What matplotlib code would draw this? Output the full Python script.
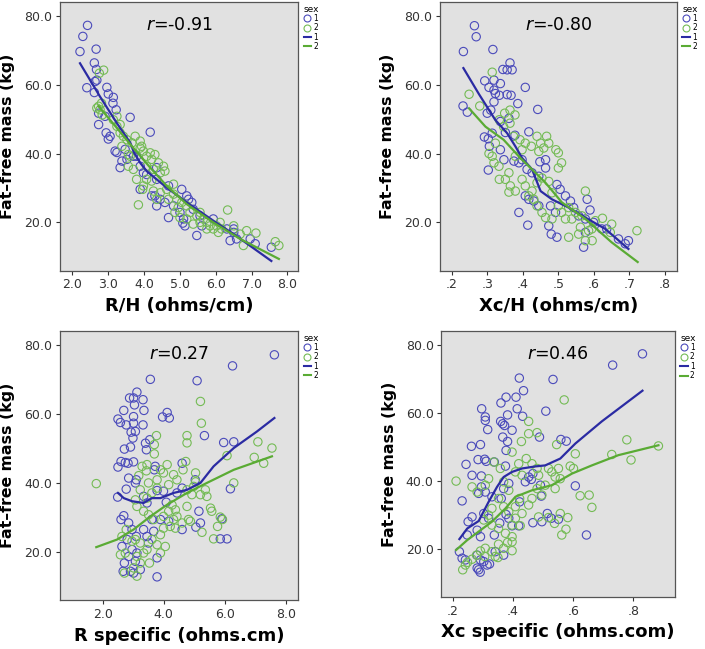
import numpy as np
import matplotlib.pyplot as plt
from matplotlib.lines import Line2D

# ---- panel 1 : R/H ----
rh_m_x = [2.42, 2.29, 2.21, 2.66, 2.61, 2.67, 2.40, 2.63, 2.68, 2.61, 2.96, 3.00, 3.14, 3.13, 2.73, 2.73,
          2.91, 3.22, 3.61, 2.94, 3.05, 3.00, 4.17, 3.19, 3.33, 3.52, 3.70, 3.89, 3.98, 4.35, 4.68, 4.68,
          4.45, 4.21, 5.05, 5.10, 5.14, 5.08, 5.47, 5.19, 5.24, 5.56, 5.61, 5.93, 6.31, 6.50, 6.58, 6.40,
          6.96, 7.10, 7.55, 6.50, 4.07, 4.35, 4.30, 3.89, 3.79, 3.38, 3.47, 3.24, 4.82, 4.58, 4.35, 5.00,
          5.33, 5.37]
rh_m_y = [77.2, 74.0, 69.6, 70.3, 66.3, 64.4, 59.1, 60.9, 61.3, 57.7, 59.2, 57.3, 56.3, 54.6, 51.7, 48.4,
          50.8, 52.7, 50.5, 46.0, 45.0, 44.2, 46.2, 40.7, 35.9, 38.3, 39.2, 36.3, 34.4, 32.5, 30.6, 21.4,
          26.7, 27.7, 29.6, 21.0, 19.0, 19.8, 16.2, 27.7, 26.7, 21.9, 19.0, 21.0, 18.1, 18.1, 15.2, 14.7,
          15.2, 13.8, 12.8, 17.1, 33.9, 35.9, 27.7, 29.6, 39.2, 37.8, 41.2, 40.3, 24.8, 25.8, 24.8, 22.9,
          25.8, 23.8]
rh_f_x = [2.73, 2.77, 2.81, 2.68, 2.83, 3.14, 3.24, 3.33, 2.75, 2.87, 3.33, 3.42, 3.52, 3.66, 3.75, 3.89,
          3.93, 3.98, 4.07, 4.17, 4.30, 4.21, 4.40, 4.54, 4.58, 4.45, 3.61, 3.56, 3.70, 3.79, 3.98, 3.96,
          4.07, 3.84, 4.21, 4.26, 4.45, 4.63, 4.82, 4.91, 5.05, 4.86, 4.95, 5.19, 5.28, 5.47, 5.56, 5.65,
          5.75, 5.84, 5.93, 6.02, 6.07, 6.16, 6.12, 6.33, 6.50, 6.68, 6.77, 6.86, 7.12, 7.66, 7.76, 5.19,
          5.37, 5.00, 4.68, 4.35, 4.82, 3.24, 3.38, 3.56, 3.89, 4.07, 4.26, 5.56, 5.75]
rh_f_y = [53.7, 52.7, 54.6, 53.2, 51.2, 49.8, 47.9, 48.4, 63.3, 64.2, 46.0, 45.0, 44.0, 43.1, 45.0, 43.6,
          42.1, 40.7, 39.2, 40.2, 39.7, 38.3, 37.3, 36.3, 34.9, 34.4, 39.2, 36.3, 35.4, 32.5, 30.6, 29.6,
          32.5, 25.1, 32.0, 29.1, 28.6, 29.6, 28.2, 26.7, 25.8, 22.9, 24.3, 24.8, 22.9, 21.9, 22.9, 21.0,
          20.0, 19.0, 18.1, 19.0, 17.1, 18.1, 20.0, 23.6, 19.0, 16.6, 13.3, 17.6, 16.9, 14.4, 13.3, 21.0,
          19.5, 21.4, 26.7, 26.7, 31.1, 50.8, 42.1, 39.7, 41.6, 36.3, 35.4, 20.0, 18.1]
rh_m_fit_x = [2.21, 2.77, 3.24, 3.62, 3.72, 3.89, 4.07, 4.63, 5.19, 5.93, 6.50, 7.55]
rh_m_fit_y = [66.2, 56.5, 48.8, 43.0, 40.2, 37.3, 34.9, 30.1, 25.8, 20.5, 16.6, 8.8]
rh_f_fit_x = [2.73, 3.24, 3.70, 4.17, 4.63, 5.19, 5.93, 6.68, 7.76]
rh_f_fit_y = [53.7, 47.4, 41.6, 35.9, 30.6, 25.3, 20.0, 15.2, 9.4]

# ---- panel 2 : Xc/H ----
xh_m_x = [.264, .269, .233, .316, .364, .370, .356, .344, .407, .293, .319, .337, .305, .319, .323, .334,
          .356, .367, .319, .386, .442, .232, .244, .300, .310, .361, .337, .292, .303, .314, .351, .378,
          .417, .303, .306, .337, .347, .375, .389, .398, .412, .426, .445, .464, .464, .389, .414, .407,
          .417, .431, .445, .473, .480, .496, .478, .492, .496, .505, .520, .534, .543, .557, .576, .571,
          .581, .589, .576, .599, .622, .636, .669, .697, .688, .448]
xh_m_y = [77.1, 73.9, 69.6, 70.2, 66.3, 64.3, 64.3, 64.4, 59.2, 61.1, 61.3, 60.3, 59.2, 58.4, 57.4, 56.9,
          57.1, 56.9, 55.0, 54.5, 52.8, 53.8, 52.0, 51.7, 52.6, 50.2, 49.3, 44.8, 44.3, 45.9, 46.1, 45.3,
          46.3, 35.2, 42.1, 41.1, 38.2, 37.8, 37.3, 38.2, 35.4, 34.4, 33.4, 38.2, 35.8, 22.9, 19.2, 27.7,
          26.7, 26.2, 24.8, 19.0, 16.6, 15.7, 24.8, 22.9, 31.0, 29.6, 27.7, 26.2, 24.3, 21.9, 17.1, 12.8,
          26.7, 23.6, 21.0, 20.0, 18.1, 18.1, 15.2, 14.7, 13.8, 37.6]
xh_f_x = [.249, .279, .314, .305, .314, .323, .334, .349, .364, .378, .364, .346, .374, .392, .407, .440,
          .450, .467, .473, .493, .500, .509, .500, .459, .445, .424, .398, .379, .361, .351, .365, .379,
          .361, .333, .319, .334, .398, .407, .426, .440, .454, .473, .482, .500, .509, .529, .548, .566,
          .576, .538, .529, .557, .576, .595, .604, .624, .646, .650, .721, .594, .454, .464, .482, .520,
          .440, .431, .417, .585, .562]
xh_f_y = [57.2, 53.8, 63.6, 40.0, 39.2, 43.0, 49.8, 51.7, 52.6, 51.2, 48.8, 47.8, 45.0, 44.0, 43.0, 45.0,
          43.0, 45.0, 43.0, 41.1, 40.2, 37.3, 35.8, 41.6, 40.6, 42.1, 41.1, 39.2, 34.4, 32.5, 30.6, 29.1,
          28.8, 36.3, 37.3, 32.5, 32.5, 30.6, 29.1, 31.5, 32.9, 31.9, 28.6, 24.8, 22.9, 24.3, 22.9, 21.9,
          29.1, 21.0, 15.7, 16.6, 14.7, 14.7, 20.5, 21.2, 17.1, 19.5, 17.6, 18.1, 22.9, 21.4, 21.0, 21.0,
          24.8, 26.7, 27.7, 17.6, 18.6]
xh_m_fit_x = [.233, .277, .323, .356, .379, .398, .426, .450, .482, .529, .576, .632, .697]
xh_m_fit_y = [64.8, 57.2, 49.7, 45.9, 42.1, 38.7, 35.4, 29.1, 26.7, 24.3, 21.4, 18.1, 12.3]
xh_f_fit_x = [.249, .295, .346, .393, .426, .464, .510, .576, .650, .723]
xh_f_fit_y = [53.1, 47.8, 44.0, 38.7, 35.4, 31.5, 25.8, 21.0, 14.2, 8.5]

# ---- panel 3 : R specific ----
rs_m_x = [7.62, 6.25, 3.56, 5.09, 3.12, 2.88, 3.01, 3.32, 3.04, 2.69, 3.35, 4.11, 3.96, 4.18, 3.01, 2.50,
          2.58, 2.77, 3.01, 3.32, 2.93, 3.07, 2.99, 5.33, 3.54, 3.40, 5.96, 6.29, 2.71, 2.91, 3.43, 2.50,
          2.60, 2.74, 2.83, 3.01, 3.69, 3.72, 4.60, 6.18, 2.49, 2.85, 3.10, 3.07, 2.77, 3.34, 3.45, 3.78,
          3.99, 4.43, 4.60, 5.03, 5.20, 5.15, 5.05, 4.60, 4.08, 3.89, 4.16, 3.61, 3.34, 3.67, 2.60, 2.69,
          2.85, 2.96, 3.10, 2.80, 2.63, 2.96, 3.12, 2.85, 3.07, 2.71, 2.91, 2.67, 3.23, 3.78, 3.45, 3.50,
          3.78, 5.85, 6.07, 5.90, 3.01]
rs_m_y = [77.1, 73.9, 70.0, 69.6, 66.3, 64.6, 64.6, 64.1, 62.6, 61.0, 61.0, 60.4, 59.1, 58.8, 59.2, 58.5,
          57.5, 56.8, 57.3, 56.8, 54.7, 54.9, 53.0, 53.7, 52.5, 51.5, 51.7, 51.9, 49.8, 50.4, 49.6, 44.6,
          46.2, 45.9, 45.7, 46.1, 43.8, 44.8, 45.7, 38.3, 35.9, 41.4, 40.9, 40.0, 38.2, 36.1, 34.2, 37.8,
          37.6, 37.1, 38.5, 40.9, 28.4, 31.8, 27.2, 26.5, 34.4, 29.4, 28.9, 29.4, 26.5, 26.0, 29.4, 30.5,
          28.4, 26.5, 24.5, 23.6, 21.6, 20.7, 19.7, 18.7, 17.3, 16.8, 14.4, 14.4, 14.9, 12.8, 24.5, 22.6,
          18.3, 23.8, 23.8, 29.6, 13.9]
rs_f_x = [1.79, 5.20, 5.23, 4.76, 3.76, 3.69, 3.69, 3.29, 3.45, 3.43, 3.18, 3.89, 3.99, 4.32, 4.63, 4.72,
          5.04, 5.04, 4.98, 4.76, 4.92, 4.43, 4.16, 3.78, 3.50, 3.78, 3.23, 3.61, 3.45, 3.07, 3.12, 3.34,
          3.50, 3.67, 3.99, 4.32, 4.43, 4.21, 4.60, 4.38, 3.99, 3.89, 4.05, 3.78, 3.61, 3.45, 3.23, 3.07,
          2.63, 2.77, 2.96, 2.58, 2.74, 3.12, 3.34, 3.53, 3.23, 3.01, 2.71, 3.12, 3.89, 4.81, 4.87, 5.25,
          5.53, 5.57, 5.85, 5.92, 5.63, 5.76, 6.07, 6.29, 6.96, 7.08, 7.27, 7.54, 4.76, 4.11, 5.36, 5.20,
          5.41, 4.76, 4.38, 4.16, 4.27]
rs_f_y = [39.8, 63.6, 57.3, 53.7, 53.7, 51.1, 48.4, 44.8, 45.3, 43.5, 42.1, 43.8, 42.9, 42.4, 43.8, 46.2,
          42.9, 40.3, 39.0, 38.0, 36.6, 40.9, 39.5, 40.9, 40.0, 38.5, 38.0, 37.1, 35.6, 35.1, 33.2, 31.8,
          30.8, 29.4, 30.3, 29.4, 30.3, 27.4, 28.4, 26.9, 26.9, 25.0, 21.6, 22.1, 23.6, 20.7, 22.6, 23.6,
          24.5, 26.5, 23.1, 19.2, 19.7, 18.7, 19.7, 16.8, 16.8, 15.4, 13.9, 13.0, 19.7, 29.4, 28.9, 25.7,
          32.7, 31.8, 30.1, 29.4, 23.8, 27.4, 47.9, 40.0, 47.4, 51.9, 45.7, 50.1, 51.6, 45.3, 38.0, 36.6,
          36.1, 33.2, 32.2, 31.8, 33.6]
rs_m_fit_x = [2.50, 2.69, 2.96, 3.34, 3.61, 3.89, 4.32, 4.76, 5.20, 5.63, 6.29, 7.05, 7.62]
rs_m_fit_y = [37.1, 35.6, 34.7, 34.2, 35.6, 35.6, 37.1, 38.0, 40.0, 44.8, 50.1, 54.9, 58.8]
rs_f_fit_x = [1.79, 2.47, 3.01, 3.56, 4.11, 4.76, 5.41, 6.29, 7.54]
rs_f_fit_y = [21.4, 23.6, 26.5, 30.3, 33.7, 37.1, 40.0, 43.8, 47.7]

# ---- panel 4 : Xc specific ----
xs_m_x = [.830, .731, .421, .533, .435, .377, .410, .360, .296, .414, .509, .382, .308, .432, .308, .359,
          .366, .372, .316, .397, .366, .488, .559, .577, .262, .292, .382, .244, .284, .306, .311, .338,
          .375, .377, .607, .231, .264, .295, .295, .286, .308, .330, .361, .369, .386, .422, .441, .452,
          .466, .461, .491, .494, .514, .527, .496, .466, .377, .386, .397, .419, .356, .338, .319, .303,
          .264, .251, .281, .292, .248, .222, .231, .242, .281, .292, .303, .314, .286, .281, .291, .322,
          .341, .369, .644, .551]
xs_m_y = [77.3, 74.0, 70.2, 69.8, 66.5, 64.6, 64.6, 62.9, 61.2, 61.2, 60.5, 59.4, 58.8, 59.0, 57.8, 57.5,
          56.8, 56.3, 55.1, 54.9, 52.9, 52.9, 52.2, 51.7, 50.2, 50.7, 51.6, 44.9, 46.3, 46.4, 45.8, 45.6,
          44.4, 49.0, 38.6, 34.2, 41.7, 41.5, 38.3, 36.4, 36.8, 35.4, 34.9, 37.8, 39.3, 33.9, 39.8, 41.2,
          42.2, 40.5, 38.8, 35.6, 30.5, 29.1, 28.1, 27.8, 30.2, 29.1, 26.9, 26.9, 27.7, 24.2, 29.1, 30.5,
          29.5, 28.1, 25.6, 23.7, 24.2, 19.3, 17.4, 16.9, 18.3, 16.9, 16.4, 15.4, 14.0, 14.5, 13.3, 15.7,
          19.3, 18.3, 24.2, 28.8]
xs_f_x = [.211, .570, .452, .452, .480, .428, .397, .545, .607, .778, .728, .792, .883, .264, .281, .308,
          .319, .336, .358, .369, .386, .408, .419, .444, .463, .480, .485, .518, .529, .551, .590, .601,
          .540, .557, .540, .507, .496, .463, .452, .422, .408, .430, .408, .386, .369, .352, .330, .319,
          .303, .330, .352, .375, .397, .382, .397, .397, .369, .352, .330, .308, .292, .279, .264, .249,
          .233, .242, .306, .341, .350, .485, .518, .538, .557, .582, .576, .562, .623, .662, .653, .480,
          .430, .397, .424]
xs_f_y = [40.0, 63.8, 57.5, 53.9, 54.2, 51.6, 48.5, 50.7, 48.0, 52.1, 47.8, 46.2, 50.3, 38.3, 36.8, 38.8,
          40.7, 45.6, 43.7, 39.8, 37.3, 42.7, 45.1, 46.6, 45.1, 43.7, 41.7, 43.7, 42.7, 43.7, 44.4, 43.7,
          41.2, 40.7, 37.8, 38.8, 35.9, 34.9, 33.0, 34.9, 32.5, 30.5, 29.1, 31.0, 32.5, 34.9, 32.0, 30.0,
          28.6, 27.1, 26.1, 24.7, 23.7, 22.0, 22.2, 19.6, 20.3, 21.5, 19.3, 20.3, 19.5, 18.3, 17.1, 16.2,
          14.0, 15.4, 17.9, 17.9, 17.6, 29.5, 29.3, 27.6, 30.5, 29.3, 25.9, 24.2, 35.7, 32.3, 35.9, 37.8,
          41.7, 27.1, 26.9]
xs_m_fit_x = [.222, .248, .286, .319, .347, .369, .397, .430, .474, .507, .557, .607, .695, .830]
xs_m_fit_y = [23.0, 26.1, 28.3, 33.9, 38.3, 41.2, 42.7, 43.7, 44.3, 44.6, 46.6, 51.0, 57.5, 66.5]
xs_f_fit_x = [.211, .248, .286, .330, .375, .408, .463, .529, .596, .662, .750, .883]
xs_f_fit_y = [19.8, 22.7, 25.2, 28.1, 32.0, 35.4, 37.3, 38.8, 42.2, 44.6, 47.6, 50.5]

r_labels = ['-0.91', '-0.80', '0.27', '0.46']
x_labels = ['R/H (ohms/cm)', 'Xc/H (ohms/cm)', 'R specific (ohms.cm)', 'Xc specific (ohms.com)']

blue_pt = '#4b4bbb'
green_pt = '#74bb55'
blue_ln = '#2b2ba3'
green_ln = '#5aab34'
bg = '#e1e1e1'

fig = plt.figure(figsize=(7.05, 6.49), dpi=100)
rects = [[0.085, 0.583, 0.338, 0.414],
         [0.624, 0.583, 0.336, 0.414],
         [0.085, 0.075, 0.338, 0.415],
         [0.626, 0.080, 0.331, 0.410]]

panels = [
    (rh_m_x, rh_m_y, rh_f_x, rh_f_y, rh_m_fit_x, rh_m_fit_y, rh_f_fit_x, rh_f_fit_y,
     (1.65, 8.3), [2, 3, 4, 5, 6, 7, 8], '{:.1f}'),
    (xh_m_x, xh_m_y, xh_f_x, xh_f_y, xh_m_fit_x, xh_m_fit_y, xh_f_fit_x, xh_f_fit_y,
     (0.167, 0.833), [.2, .3, .4, .5, .6, .7, .8], 'frac'),
    (rs_m_x, rs_m_y, rs_f_x, rs_f_y, rs_m_fit_x, rs_m_fit_y, rs_f_fit_x, rs_f_fit_y,
     (0.6, 8.4), [2, 4, 6, 8], '{:.1f}'),
    (xs_m_x, xs_m_y, xs_f_x, xs_f_y, xs_m_fit_x, xs_m_fit_y, xs_f_fit_x, xs_f_fit_y,
     (0.162, 0.937), [.2, .4, .6, .8], 'frac'),
]

for i, p in enumerate(panels):
    mx, my, fx, fy, mfx, mfy, ffx, ffy, xlim, xt, fmt = p
    ax = fig.add_axes(rects[i])
    ax.set_facecolor(bg)
    ax.scatter(mx, my, s=36, facecolors='none', edgecolors=blue_pt, linewidths=0.8, zorder=2)
    ax.scatter(fx, fy, s=36, facecolors='none', edgecolors=green_pt, linewidths=0.8, zorder=2)
    ax.plot(mfx, mfy, color=blue_ln, lw=1.6, zorder=3)
    ax.plot(ffx, ffy, color=green_ln, lw=1.6, zorder=3)
    ax.set_xlim(*xlim)
    ax.set_ylim(6, 84)
    ax.set_xticks(xt)
    if fmt == 'frac':
        ax.set_xticklabels(['{:.1f}'.format(v).lstrip('0') for v in xt])
    else:
        ax.set_xticklabels([fmt.format(v) for v in xt])
    ax.set_yticks([20, 40, 60, 80])
    ax.set_yticklabels(['20.0', '40.0', '60.0', '80.0'])
    ax.tick_params(labelsize=9, direction='out', length=3, width=0.8, colors='#333333', pad=2.5)
    for s in ax.spines.values():
        s.set_color('#555555')
        s.set_linewidth(0.9)
    ax.set_xlabel(x_labels[i], fontsize=13, fontweight='bold', labelpad=4)
    ax.set_ylabel('Fat\u2013free mass (kg)', fontsize=11.3, fontweight='bold')
    ax.yaxis.set_label_coords(-0.19, 0.5)
    ax.text(0.5, 0.915, r'$r$=' + r_labels[i], transform=ax.transAxes, ha='center', va='center',
            fontsize=12.5)
    handles = [Line2D([], [], ls='none', marker='o', mfc='none', mec=blue_pt, ms=5, mew=0.8),
               Line2D([], [], ls='none', marker='o', mfc='none', mec=green_pt, ms=5, mew=0.8),
               Line2D([], [], color=blue_ln, lw=1.5),
               Line2D([], [], color=green_ln, lw=1.5)]
    leg = ax.legend(handles, ['1', '2', '1', '2'], title='sex', loc='upper left',
                    bbox_to_anchor=(1.0, 1.01), frameon=False, fontsize=5.5, title_fontsize=6.5,
                    handlelength=1.0, handletextpad=0.3, labelspacing=0.05, borderpad=0.2)
    leg._legend_box.align = 'left'

plt.savefig('out.png', dpi=100)
